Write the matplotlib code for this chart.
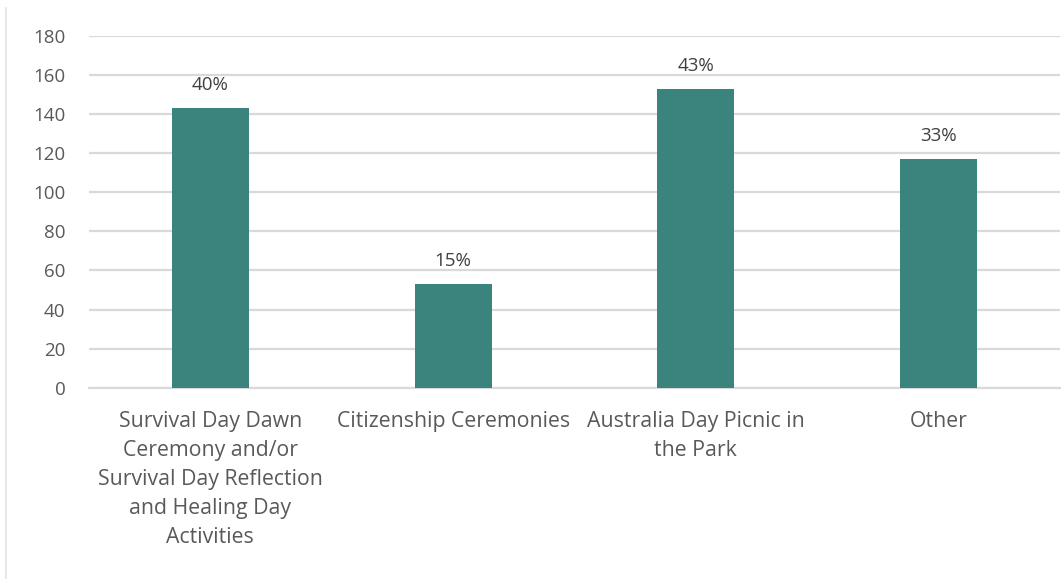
import matplotlib
matplotlib.use("Agg")
import matplotlib.pyplot as plt
from matplotlib.lines import Line2D

categories = [
    "Survival Day Dawn\nCeremony and/or\nSurvival Day Reflection\nand Healing Day\nActivities",
    "Citizenship Ceremonies",
    "Australia Day Picnic in\nthe Park",
    "Other",
]
counts = [143, 53, 153, 117]
percent_labels = ["40%", "15%", "43%", "33%"]
y_ticks = [0, 20, 40, 60, 80, 100, 120, 140, 160, 180]

bar_color = "#3b847e"
text_color = "#595959"
grid_color = "#d9d9d9"

plt.rcParams["font.family"] = ["Open Sans", "DejaVu Sans"]

fig = plt.figure(figsize=(10.61, 5.79), dpi=100)
ax = fig.add_axes([89 / 1061, 1 - 387.7 / 579, 971 / 1061, (387.7 - 36) / 579])

x = range(len(categories))
bars = ax.bar(x, counts, width=0.317, color=bar_color, zorder=3)

for rect, lab in zip(bars, percent_labels):
    ax.annotate(lab, (rect.get_x() + rect.get_width() / 2, rect.get_height()),
                xytext=(0, 10), textcoords="offset points",
                ha="center", va="bottom", fontsize=13.5, color="#404040")

ax.set_xlim(-0.5, len(categories) - 0.5)
ax.set_ylim(0, 180)
ax.set_yticks(y_ticks)
ax.set_yticklabels([str(t) for t in y_ticks], fontsize=13.5, color=text_color)
ax.set_xticks(list(x))
ax.set_xticklabels(categories, fontsize=15.3, color=text_color, linespacing=1.5)

ax.yaxis.grid(True, color=grid_color, linewidth=1.6, zorder=0)
ax.set_axisbelow(True)
for side in ["top", "right", "left"]:
    ax.spines[side].set_visible(False)
ax.spines["bottom"].set_color(grid_color)
ax.spines["bottom"].set_linewidth(1.6)
ax.tick_params(axis="both", length=0)
ax.tick_params(axis="y", pad=17)
ax.tick_params(axis="x", pad=17)

# faint frame line on the left edge of the chart area
fig.add_artist(Line2D([6 / 1061, 6 / 1061], [0.0, 1 - 8 / 579],
                      transform=fig.transFigure, color="#e3e3e3", linewidth=1.2))

fig.savefig("out.png", dpi=100, facecolor="white")
